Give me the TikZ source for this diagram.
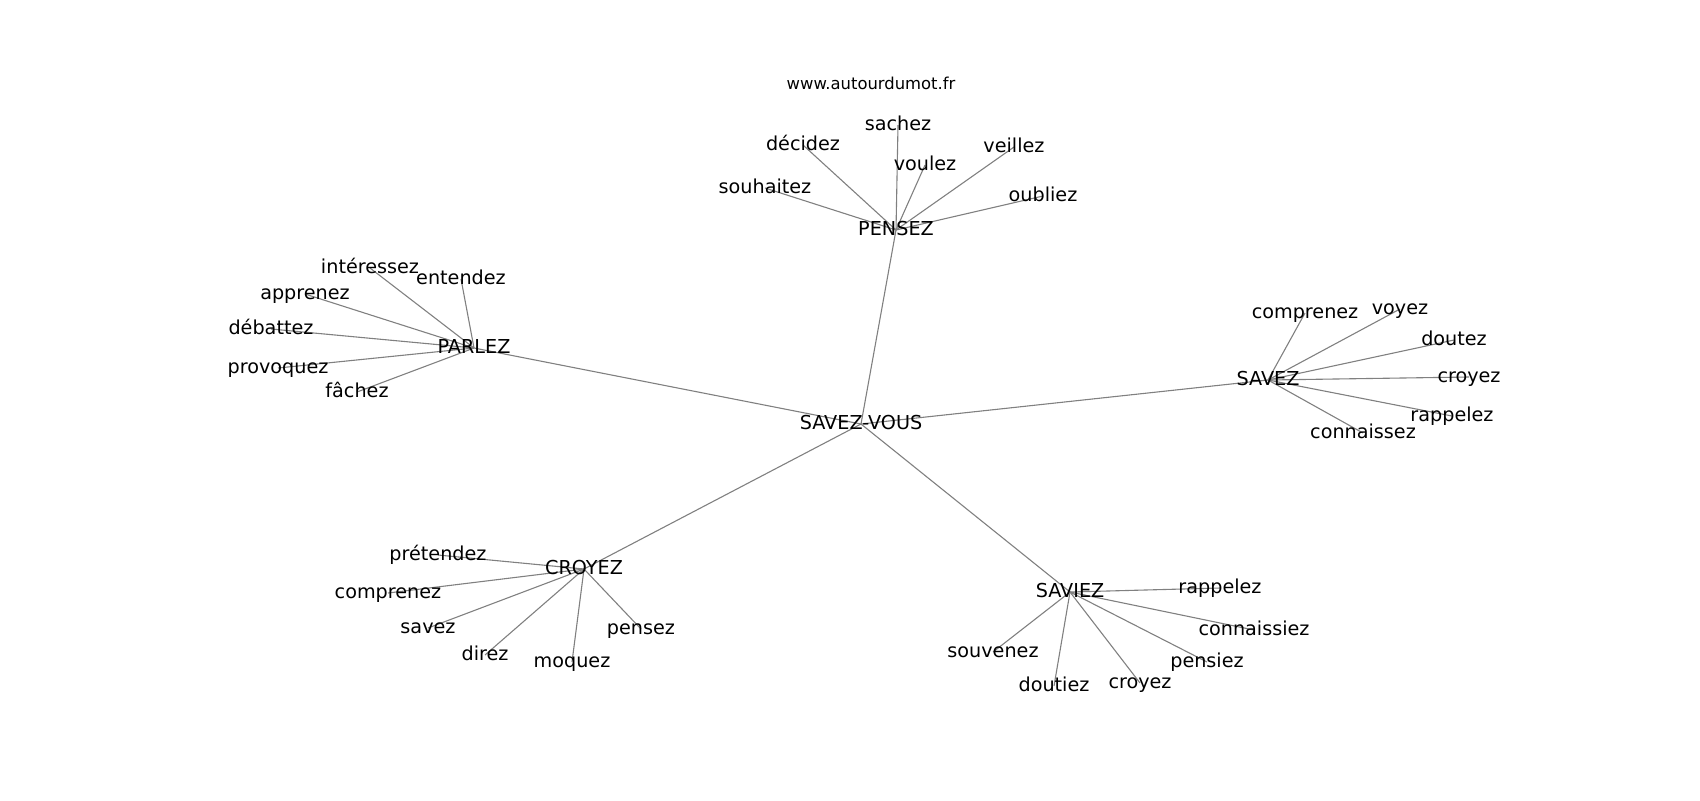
\documentclass[tikz,border=0pt]{standalone}
\usepackage{fontspec}
\setmainfont{DejaVu Sans}
\usetikzlibrary{backgrounds}

\begin{document}
\begin{tikzpicture}[x=0.5pt,y=-0.5pt,
		word/.style={font=\fontsize{9.6}{11}\selectfont,inner sep=0pt,
			text height=0.76em,text depth=0.24em},
		link/.style={draw=gray,line width=0.55pt}]
			\useasboundingbox (0,0) rectangle (1700,800);
			\node[font=\fontsize{8.2}{10}\selectfont] (url) at (871,83) {www.autourdumot.fr};
			% centre et mots principaux
			\node[word] (c_0) at (861,424) {SAVEZ-VOUS};
			\node[word] (pe) at (896,230) {PENSEZ};
			\node[word] (pa) at (474,348) {PARLEZ};
			\node[word] (sa) at (1268,380) {SAVEZ};
			\node[word] (cr) at (584,569) {CROYEZ};
			\node[word] (si) at (1070,592) {SAVIEZ};
			% PENSEZ
			\node[word] (pe_1) at (765,188) {souhaitez};
			\node[word] (pe_2) at (803,145) {décidez};
			\node[word] (pe_3) at (898,125) {sachez};
			\node[word] (pe_4) at (925,165) {voulez};
			\node[word] (pe_5) at (1014,147) {veillez};
			\node[word] (pe_6) at (1043,196) {oubliez};
			% PARLEZ
			\node[word] (pa_1) at (370,268) {intéressez};
			\node[word] (pa_2) at (461,279) {entendez};
			\node[word] (pa_3) at (305,294) {apprenez};
			\node[word] (pa_4) at (271,329) {débattez};
			\node[word] (pa_5) at (278,368) {provoquez};
			\node[word] (pa_6) at (357,392) {fâchez};
			% SAVEZ
			\node[word] (sa_1) at (1305,313) {comprenez};
			\node[word] (sa_2) at (1400,309) {voyez};
			\node[word] (sa_3) at (1454,340) {doutez};
			\node[word] (sa_4) at (1469,377) {croyez};
			\node[word] (sa_5) at (1452,416) {rappelez};
			\node[word] (sa_6) at (1363,433) {connaissez};
			% CROYEZ
			\node[word] (cr_1) at (438,555) {prétendez};
			\node[word] (cr_2) at (388,593) {comprenez};
			\node[word] (cr_3) at (428,628) {savez};
			\node[word] (cr_4) at (485,655) {direz};
			\node[word] (cr_5) at (572,662) {moquez};
			\node[word] (cr_6) at (641,629) {pensez};
			% SAVIEZ
			\node[word] (si_1) at (1220,588) {rappelez};
			\node[word] (si_2) at (1254,630) {connaissiez};
			\node[word] (si_3) at (1207,662) {pensiez};
			\node[word] (si_4) at (1140,683) {croyez};
			\node[word] (si_5) at (1054,686) {doutiez};
			\node[word] (si_6) at (993,652) {souvenez};
			\begin{scope}[on background layer]
			\path[link]
			(c_0.center) edge (pe.center) edge (pa.center) edge (sa.center)
			edge (cr.center) edge (si.center)
			(pe.center) edge (pe_1.center) edge (pe_2.center) edge (pe_3.center)
			edge (pe_4.center) edge (pe_5.center) edge (pe_6.center)
			(pa.center) edge (pa_1.center) edge (pa_2.center) edge (pa_3.center)
			edge (pa_4.center) edge (pa_5.center) edge (pa_6.center)
			(sa.center) edge (sa_1.center) edge (sa_2.center) edge (sa_3.center)
			edge (sa_4.center) edge (sa_5.center) edge (sa_6.center)
			(cr.center) edge (cr_1.center) edge (cr_2.center) edge (cr_3.center)
			edge (cr_4.center) edge (cr_5.center) edge (cr_6.center)
			(si.center) edge (si_1.center) edge (si_2.center) edge (si_3.center)
			edge (si_4.center) edge (si_5.center) edge (si_6.center);
			\end{scope}
		\end{tikzpicture}
\end{document}
